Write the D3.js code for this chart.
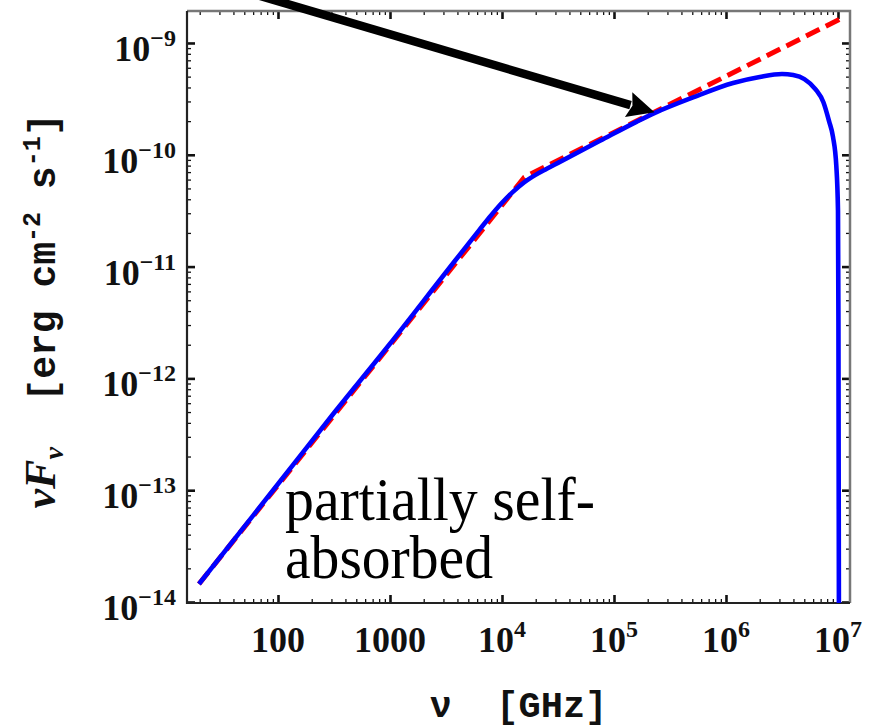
<!DOCTYPE html>
<html>
<head>
<meta charset="utf-8">
<script src="https://cdn.jsdelivr.net/npm/d3@7"></script>
<style>
  body { margin: 0; background: #fff; }
  svg { display: block; }
</style>
</head>
<body>
<svg id="chart" width="878" height="727"></svg>
<script>
  // values (nu in GHz, nuF_nu in erg cm^-2 s^-1)
  var nuBlue = [19.7, 100, 316, 1000, 3162, 6310, 7943, 1e4, 12590, 15850, 19950, 25120,
    31620, 75000, 1.585e5, 2.32e5, 5.01e5, 1.156e6, 2.0e6, 3.16e6, 3.98e6, 5.01e6,
    6.31e6, 7.41e6, 8.32e6, 9.02e6, 9.66e6, 1.0e7, 1.009e7, 1.019e7];
  var fluxBlue = [1.45e-14, 1.135e-13, 4.9e-13, 2.04e-12, 8.9e-12, 2.14e-11, 2.85e-11, 3.72e-11,
    4.68e-11, 5.69e-11, 6.61e-11, 7.5e-11, 8.47e-11, 1.333e-10, 1.97e-10, 2.37e-10,
    3.24e-10, 4.39e-10, 4.97e-10, 5.28e-10, 5.16e-10, 4.75e-10, 3.85e-10, 2.95e-10,
    2.0e-10, 1.45e-10, 7.94e-11, 3.16e-11, 3.16e-12, 7.9e-15];
  var nuRed = [19.7, 15850, 1.1e7];
  var fluxRed = [1.45e-14, 6.3e-11, 1.68e-9];

  var xMajor = [100, 1000, 1e4, 1e5, 1e6, 1e7];
  var xMajorLabels = [['100', ''], ['1000', ''], ['10', '4'], ['10', '5'], ['10', '6'], ['10', '7']];
  var yMajor = [1e-14, 1e-13, 1e-12, 1e-11, 1e-10, 1e-9];
  var yMajorLabels = ['\u221214', '\u221213', '\u221212', '\u221211', '\u221210', '\u22129'];

  var noteLines = ['partially self-', 'absorbed'];
  var arrowTail = [50, 2.9e-9];
  var arrowTip = [2.3e5, 2.4e-10];

(function () {
  'use strict';
  var svg = d3.select('#chart');
  var pl = 187, pr = 850, pt = 11, pb = 603;

  var x = d3.scaleLog().domain([15.4, 1.28e7]).range([pl, pr]);
  var y = d3.scaleLog().domain([Math.pow(10, -14.009), Math.pow(10, -8.714)]).range([pb, pt]);

  function isPow10(v) {
    var l = Math.log10(v);
    return Math.abs(l - Math.round(l)) < 1e-6;
  }
  var xMinor = x.ticks().filter(function (v) { return !isPow10(v); });
  var yMinor = y.ticks().filter(function (v) { return !isPow10(v); });

  svg.append('clipPath').attr('id', 'plotClip')
    .append('rect').attr('x', pl).attr('y', pt)
    .attr('width', pr - pl).attr('height', pb - pt);

  // frame ticks, all pointing inward
  var tickGroup = svg.append('g');
  function drawAxis(axis, transform, values, size, width) {
    var g = tickGroup.append('g').attr('transform', transform)
      .call(axis.tickValues(values).tickSize(size).tickFormat(''));
    g.select('.domain').remove();
    g.selectAll('.tick line').attr('stroke', '#111').attr('stroke-width', width);
  }
  drawAxis(d3.axisBottom(x), 'translate(0,' + pb + ')', xMinor, -4, 1.3);
  drawAxis(d3.axisBottom(x), 'translate(0,' + pb + ')', xMajor, -8, 2.6);
  drawAxis(d3.axisTop(x), 'translate(0,' + pt + ')', xMinor, -4, 1.3);
  drawAxis(d3.axisTop(x), 'translate(0,' + pt + ')', xMajor, -8, 2.6);
  drawAxis(d3.axisLeft(y), 'translate(' + pl + ',0)', yMinor, -4, 1.3);
  drawAxis(d3.axisLeft(y), 'translate(' + pl + ',0)', yMajor, -8, 2.6);
  drawAxis(d3.axisRight(y), 'translate(' + pr + ',0)', yMinor, -4, 1.3);
  drawAxis(d3.axisRight(y), 'translate(' + pr + ',0)', yMajor, -8, 2.6);

  // frame
  svg.append('path')
    .attr('d', 'M' + pl + ',' + pt + 'H' + pr + 'V' + pb)
    .attr('fill', 'none').attr('stroke', '#777').attr('stroke-width', 2.5);
  svg.append('path')
    .attr('d', 'M' + pl + ',' + pt + 'V' + pb + 'H' + pr)
    .attr('fill', 'none').attr('stroke', '#222').attr('stroke-width', 2.2);

  var line = d3.line()
    .x(function (d) { return x(d[0]); })
    .y(function (d) { return y(d[1]); });

  var plot = svg.append('g').attr('clip-path', 'url(#plotClip)');
  plot.append('path')
    .datum(d3.zip(nuRed, fluxRed))
    .attr('d', line.curve(d3.curveLinear))
    .attr('fill', 'none').attr('stroke', '#ff0000')
    .attr('stroke-width', 5).attr('stroke-dasharray', '15,7');
  plot.append('path')
    .datum(d3.zip(nuBlue, fluxBlue))
    .attr('d', line.curve(d3.curveMonotoneX))
    .attr('fill', 'none').attr('stroke', '#0000ff')
    .attr('stroke-width', 4.6).attr('stroke-linejoin', 'round');

  // tick labels
  var serif = '"Liberation Serif", "Times New Roman", serif';
  var lab = svg.append('g').attr('font-family', serif).attr('font-weight', 'bold')
    .attr('font-size', 36).attr('fill', '#111');
  xMajor.forEach(function (v, i) {
    var t = lab.append('text').attr('x', x(v)).attr('y', 652).attr('text-anchor', 'middle');
    t.append('tspan').text(xMajorLabels[i][0]);
    if (xMajorLabels[i][1]) {
      t.append('tspan').attr('dy', -15).attr('font-size', 24).text(xMajorLabels[i][1]);
    }
  });
  yMajor.forEach(function (v, i) {
    var t = lab.append('text').attr('x', 176).attr('y', y(v) + 18).attr('text-anchor', 'end');
    t.append('tspan').text('10');
    t.append('tspan').attr('dy', -15).attr('font-size', 24).text(yMajorLabels[i]);
  });

  // axis titles
  var mono = '"Liberation Mono", "Courier New", monospace';
  svg.append('text')
    .attr('x', (pl + pr) / 2).attr('y', 717).attr('text-anchor', 'middle')
    .attr('font-family', mono).attr('font-weight', 'bold').attr('font-size', 37)
    .attr('fill', '#111').attr('xml:space', 'preserve')
    .text('\u03bd  [GHz]');

  var yt = svg.append('text')
    .attr('transform', 'translate(55,' + ((pt + pb) / 2 + 4) + ') rotate(-90)')
    .attr('text-anchor', 'middle').attr('font-weight', 'bold').attr('fill', '#111')
    .attr('font-family', mono).attr('font-size', 38).attr('xml:space', 'preserve');
  yt.append('tspan').attr('font-family', serif).attr('font-style', 'italic')
    .attr('font-size', 44).text('\u03bdF');
  yt.append('tspan').attr('font-family', serif).attr('font-style', 'italic')
    .attr('font-size', 28).attr('dy', 8).text('\u03bd');
  yt.append('tspan').attr('dy', -8).text('  [erg cm');
  yt.append('tspan').attr('font-size', 25).attr('dy', -15).text('-2');
  yt.append('tspan').attr('dy', 15).text(' s');
  yt.append('tspan').attr('font-size', 25).attr('dy', -15).text('-1');
  yt.append('tspan').attr('dy', 15).text(']');

  // annotation text
  var note = svg.append('g').attr('font-family', serif).attr('font-size', 62).attr('fill', '#000');
  var noteWidths = [310, 208];
  noteLines.forEach(function (s, i) {
    note.append('text').attr('x', 285).attr('y', 520 + i * 58)
      .attr('textLength', noteWidths[i]).attr('lengthAdjust', 'spacingAndGlyphs')
      .text(s);
  });

  // arrow
  var ax0 = x(arrowTail[0]), ay0 = y(arrowTail[1]);
  var ax1 = x(arrowTip[0]), ay1 = y(arrowTip[1]);
  var ang = Math.atan2(ay1 - ay0, ax1 - ax0);
  var headLen = 27, headHalf = 13;
  var bx = ax1 - headLen * Math.cos(ang), by = ay1 - headLen * Math.sin(ang);
  svg.append('line')
    .attr('x1', ax0).attr('y1', ay0)
    .attr('x2', bx + 2 * Math.cos(ang)).attr('y2', by + 2 * Math.sin(ang))
    .attr('stroke', '#000').attr('stroke-width', 8.5);
  svg.append('path')
    .attr('d', 'M' + ax1 + ',' + ay1 +
      'L' + (bx - headHalf * Math.sin(ang)) + ',' + (by + headHalf * Math.cos(ang)) +
      'L' + (bx + 4 * Math.cos(ang)) + ',' + (by + 4 * Math.sin(ang)) +
      'L' + (bx + headHalf * Math.sin(ang)) + ',' + (by - headHalf * Math.cos(ang)) + 'Z')
    .attr('fill', '#000');
})();
</script>
</body>
</html>
